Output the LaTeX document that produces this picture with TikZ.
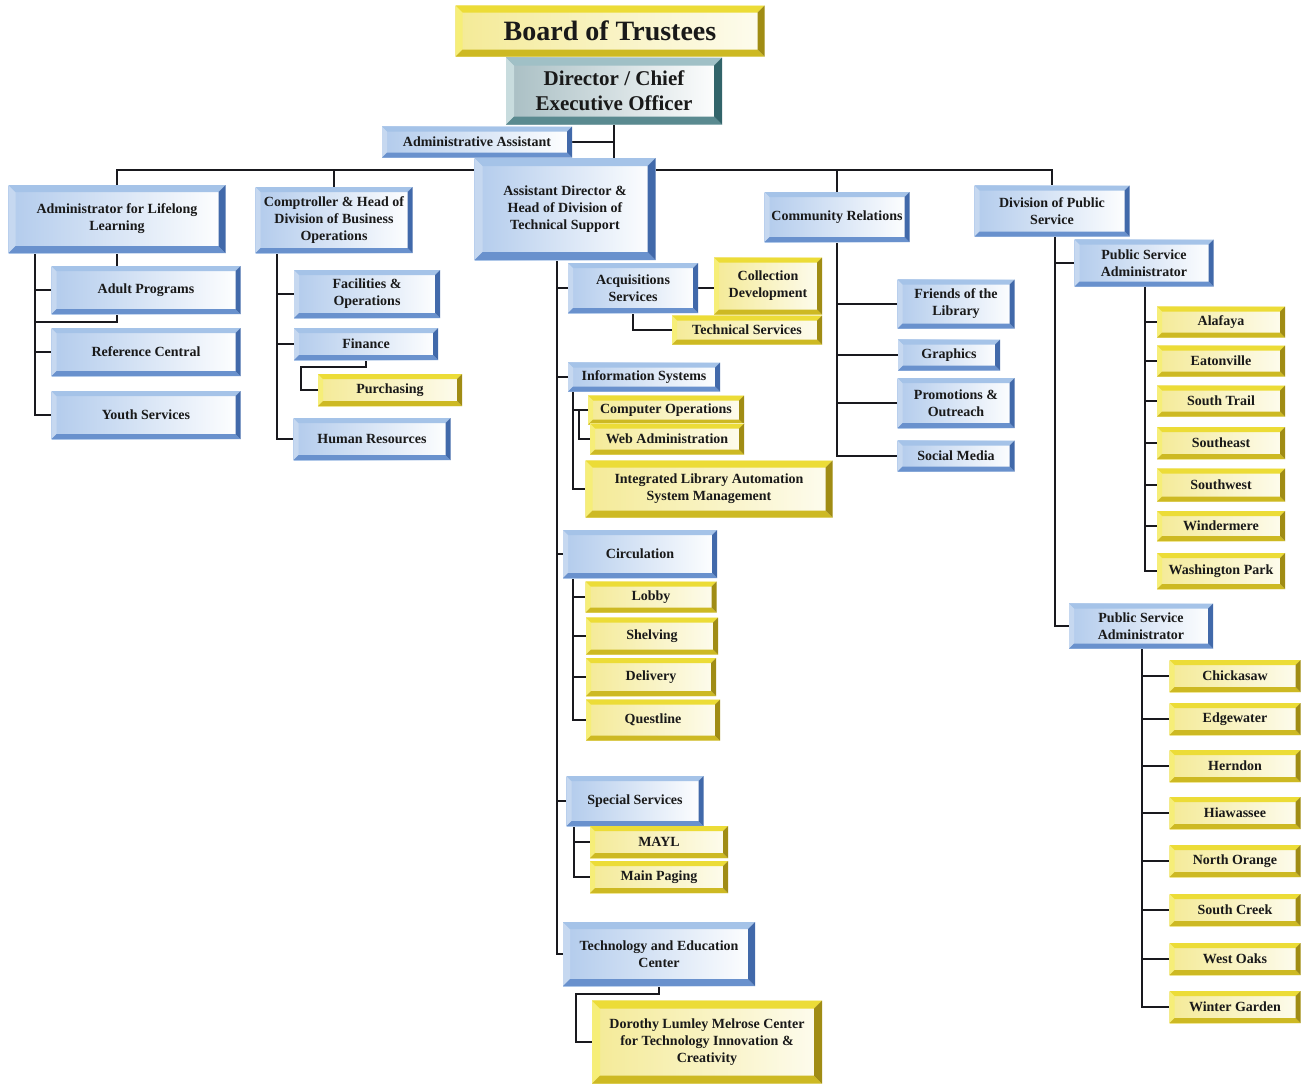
\documentclass[tikz,border=0pt]{standalone}
\usepackage{fontspec}
\setmainfont{Liberation Serif}
\usetikzlibrary{backgrounds}
\definecolor{bluetop}{RGB}{165,195,232}
\definecolor{blueside}{RGB}{198,216,240}
\definecolor{bluelow}{RGB}{105,145,205}
\definecolor{bluedark}{RGB}{65,105,170}
\definecolor{bluefill}{RGB}{178,203,236}
\definecolor{goldtop}{RGB}{236,220,55}
\definecolor{goldside}{RGB}{246,238,120}
\definecolor{goldlow}{RGB}{205,185,35}
\definecolor{golddark}{RGB}{160,140,20}
\definecolor{goldfill}{RGB}{244,234,150}
\definecolor{tealtop}{RGB}{160,192,198}
\definecolor{tealside}{RGB}{200,220,222}
\definecolor{teallow}{RGB}{90,138,144}
\definecolor{tealdark}{RGB}{50,100,106}
\definecolor{tealfill}{RGB}{168,190,195}
\definecolor{linkgrey}{RGB}{25,25,30}

\tikzset{
  bevel width/.store in=\bvw, bevel width=5pt,
  bevel/.style n args={4}{path picture={
    \fill[#1] (path picture bounding box.north west) -- (path picture bounding box.south west)
      -- ([xshift=\bvw,yshift=\bvw]path picture bounding box.south west)
      -- ([xshift=\bvw,yshift=-\bvw]path picture bounding box.north west) -- cycle;
    \fill[#2] (path picture bounding box.north west) -- (path picture bounding box.north east)
      -- ([xshift=-\bvw,yshift=-\bvw]path picture bounding box.north east)
      -- ([xshift=\bvw,yshift=-\bvw]path picture bounding box.north west) -- cycle;
    \fill[#3] (path picture bounding box.south west) -- (path picture bounding box.south east)
      -- ([xshift=-\bvw,yshift=\bvw]path picture bounding box.south east)
      -- ([xshift=\bvw,yshift=\bvw]path picture bounding box.south west) -- cycle;
    \fill[#4] (path picture bounding box.north east) -- (path picture bounding box.south east)
      -- ([xshift=-\bvw,yshift=\bvw]path picture bounding box.south east)
      -- ([xshift=-\bvw,yshift=-\bvw]path picture bounding box.north east) -- cycle;
  }},
  wh/.style 2 args={minimum width=#1pt, minimum height=#2pt},
  box/.style={rectangle, align=center, inner sep=0pt, text=black!90,
    font=\bfseries\fontsize{14}{17}\selectfont},
  bluebox/.style={box, left color=bluefill, middle color=white, right color=white,
    bevel={blueside}{bluetop}{bluelow}{bluedark}},
  goldbox/.style={box, left color=goldfill, middle color=white, right color=white!85!goldfill,
    bevel={goldside}{goldtop}{goldlow}{golddark}},
  tealbox/.style={box, left color=tealfill, middle color=white, right color=white,
    bevel={tealside}{tealtop}{teallow}{tealdark}},
  link/.style={draw=linkgrey, line width=1.7pt},
}

\begin{document}
\begin{tikzpicture}[x=1pt,y=-1pt]
\useasboundingbox (0,0) rectangle (1304,1084);
% top of the chart
\node[goldbox,wh={309}{51},bevel width=7pt,font=\bfseries\fontsize{28}{30}\selectfont](board) at (610,31){Board of Trustees};
\node[tealbox,wh={216}{67},bevel width=8pt,font=\bfseries\fontsize{21}{25}\selectfont](ceo) at (614,91){Director / Chief\\Executive Officer};
\node[bluebox,wh={190}{31}](admin) at (477,142){Administrative Assistant};
% division heads
\node[bluebox,wh={217}{68},bevel width=7pt](lifelong) at (117,219){Administrator for Lifelong\\Learning};
\node[bluebox,wh={157}{66}](comptroller) at (334,220){Comptroller \& Head of\\Division of Business\\Operations};
\node[bluebox,wh={181}{102},bevel width=8pt](assistdir) at (565,209){Assistant Director \&\\Head of Division of\\Technical Support};
\node[bluebox,wh={145}{50}](community) at (837,217){Community Relations};
\node[bluebox,wh={155}{51}](division) at (1052,211){Division of Public\\Service};
% lifelong learning
\node[bluebox,wh={189}{48}](adult) at (146,290){Adult Programs};
\node[bluebox,wh={189}{48}](refc) at (146,352){Reference Central};
\node[bluebox,wh={189}{48}](youth) at (146,415){Youth Services};
% business operations
\node[bluebox,wh={146}{48}](facilities) at (367,294){Facilities \&\\Operations};
\node[bluebox,wh={144}{32}](finance) at (366,344){Finance};
\node[goldbox,wh={144}{32}](purchasing) at (390,390){Purchasing};
\node[bluebox,wh={157}{42}](hr) at (372,439){Human Resources};
% technical support
\node[bluebox,wh={130}{50}](acq) at (633,288){Acquisitions\\Services};
\node[goldbox,wh={108}{57}](colldev) at (768,286){Collection\\Development};
\node[goldbox,wh={150}{29}](techserv) at (747,330){Technical Services};
\node[bluebox,wh={152}{29}](infosys) at (644,377){Information Systems};
\node[goldbox,wh={156}{29}](compops) at (666,410){Computer Operations};
\node[goldbox,wh={154}{31}](webadmin) at (667,439){Web Administration};
\node[goldbox,wh={247}{57},bevel width=7pt](ilasm) at (709,489){Integrated Library Automation\\System Management};
\node[bluebox,wh={154}{48}](circ) at (640,554){Circulation};
\node[goldbox,wh={131}{31}](lobby) at (651,597){Lobby};
\node[goldbox,wh={132}{37}](shelving) at (652,636){Shelving};
\node[goldbox,wh={130}{38}](delivery) at (651,677){Delivery};
\node[goldbox,wh={134}{41}](questline) at (653,720){Questline};
\node[bluebox,wh={137}{50}](special) at (635,801){Special Services};
\node[goldbox,wh={138}{32}](mayl) at (659,842){MAYL};
\node[goldbox,wh={138}{32}](mainpaging) at (659,877){Main Paging};
\node[bluebox,wh={192}{64},bevel width=7pt](teched) at (659,954){Technology and Education\\Center};
\node[goldbox,wh={230}{83},bevel width=8pt](melrose) at (707,1042){Dorothy Lumley Melrose Center\\for Technology Innovation \&\\Creativity};
% community relations
\node[bluebox,wh={117}{49}](friends) at (956,304){Friends of the\\Library};
\node[bluebox,wh={102}{31}](graphics) at (949,355){Graphics};
\node[bluebox,wh={117}{50}](promo) at (956,403){Promotions \&\\Outreach};
\node[bluebox,wh={117}{31}](socialmedia) at (956,456){Social Media};
% public service, first administrator
\node[bluebox,wh={139}{47}](psaone) at (1144,263){Public Service\\Administrator};
\node[goldbox,wh={128}{31}](alafaya) at (1221,322){Alafaya};
\node[goldbox,wh={128}{31}](eatonville) at (1221,361){Eatonville};
\node[goldbox,wh={128}{31}](southtrail) at (1221,401){South Trail};
\node[goldbox,wh={128}{32}](southeast) at (1221,443){Southeast};
\node[goldbox,wh={128}{33}](southwest) at (1221,485){Southwest};
\node[goldbox,wh={128}{30}](windermere) at (1221,526){Windermere};
\node[goldbox,wh={128}{36}](washington) at (1221,571){Washington Park};
% public service, second administrator
\node[bluebox,wh={144}{45}](psatwo) at (1141,626){Public Service\\Administrator};
\node[goldbox,wh={131}{32}](chickasaw) at (1235,676){Chickasaw};
\node[goldbox,wh={131}{32}](edgewater) at (1235,719){Edgewater};
\node[goldbox,wh={131}{32}](herndon) at (1235,766){Herndon};
\node[goldbox,wh={131}{32}](hiawassee) at (1235,813){Hiawassee};
\node[goldbox,wh={131}{32}](northorange) at (1235,861){North Orange};
\node[goldbox,wh={131}{32}](southcreek) at (1235,910){South Creek};
\node[goldbox,wh={131}{32}](westoaks) at (1235,959){West Oaks};
\node[goldbox,wh={131}{32}](wintergarden) at (1235,1007){Winter Garden};

% connectors, behind the boxes
\begin{scope}[on background layer]
  \coordinate (bar) at (0,170);
  \draw[link](ceo.south) -- (ceo.south |- assistdir.north);
  \draw[link](admin.east) -- (admin.east -| ceo.south);
  \draw[link](lifelong.north) -- (lifelong.north |- bar) -- (division.north |- bar) -- (division.north);
  \draw[link](comptroller.north) -- (comptroller.north |- bar);
  \draw[link](community.north) -- (community.north |- bar);
  % lifelong learning
  \coordinate (lltrunk) at (35,253);
  \draw[link](lltrunk) |- (youth.west);
  \draw[link](adult.west) -- (adult.west -| lltrunk); \draw[link](refc.west) -- (refc.west -| lltrunk);
  \draw[link](lifelong.south) -- (lifelong.south |- adult.north);
  \coordinate (adbend) at (117,322);
  \draw[link](lifelong.south |- adult.south) -- (adbend) -- (adbend -| lltrunk);
  % business operations
  \coordinate (cptrunk) at (277,253);
  \draw[link](cptrunk) |- (hr.west);
  \draw[link](facilities.west) -- (facilities.west -| cptrunk); \draw[link](finance.west) -- (finance.west -| cptrunk);
  \coordinate (pcbend) at (301,367);
  \draw[link](finance.south) |- (pcbend) |- (purchasing.west);
  % technical support
  \coordinate (tstrunk) at (557,260);
  \draw[link](tstrunk) |- (teched.west);
  \draw[link](acq.west) -- (acq.west -| tstrunk); \draw[link](infosys.west) -- (infosys.west -| tstrunk);
  \draw[link](circ.west) -- (circ.west -| tstrunk); \draw[link](special.west) -- (special.west -| tstrunk);
  \draw[link](acq.east) -- (acq.east -| colldev.west);
  \draw[link](acq.south) |- (techserv.west);
  \coordinate (istrunk) at (573,391);
  \draw[link](istrunk) |- (ilasm.west);
  \draw[link](compops.west) -- (compops.west -| istrunk);
  \coordinate (wabend) at (579,410);
  \draw[link](wabend) |- (webadmin.west);
  \coordinate (citrunk) at (573,578);
  \draw[link](citrunk) |- (questline.west);
  \draw[link](lobby.west) -- (lobby.west -| citrunk); \draw[link](shelving.west) -- (shelving.west -| citrunk);
  \draw[link](delivery.west) -- (delivery.west -| citrunk);
  \coordinate (sptrunk) at (574,826);
  \draw[link](sptrunk) |- (mainpaging.west);
  \draw[link](mayl.west) -- (mayl.west -| sptrunk);
  \coordinate (tebend) at (576,994);
  \draw[link](teched.south) |- (tebend) |- (melrose.west);
  % community relations
  \draw[link](community.south) |- (socialmedia.west);
  \draw[link](friends.west) -- (friends.west -| community.south); \draw[link](graphics.west) -- (graphics.west -| community.south);
  \draw[link](promo.west) -- (promo.west -| community.south);
  % public service
  \coordinate (dvtrunk) at (1055,236);
  \draw[link](dvtrunk) |- (psatwo.west);
  \draw[link](psaone.west) -- (psaone.west -| dvtrunk);
  \coordinate (ponetrunk) at (1145,287);
  \draw[link](ponetrunk) |- (washington.west);
  \draw[link](alafaya.west) -- (alafaya.west -| ponetrunk); \draw[link](eatonville.west) -- (eatonville.west -| ponetrunk);
  \draw[link](southtrail.west) -- (southtrail.west -| ponetrunk); \draw[link](southeast.west) -- (southeast.west -| ponetrunk);
  \draw[link](southwest.west) -- (southwest.west -| ponetrunk); \draw[link](windermere.west) -- (windermere.west -| ponetrunk);
  \coordinate (ptwotrunk) at (1142,649);
  \draw[link](ptwotrunk) |- (wintergarden.west);
  \draw[link](chickasaw.west) -- (chickasaw.west -| ptwotrunk); \draw[link](edgewater.west) -- (edgewater.west -| ptwotrunk);
  \draw[link](herndon.west) -- (herndon.west -| ptwotrunk); \draw[link](hiawassee.west) -- (hiawassee.west -| ptwotrunk);
  \draw[link](northorange.west) -- (northorange.west -| ptwotrunk); \draw[link](southcreek.west) -- (southcreek.west -| ptwotrunk);
  \draw[link](westoaks.west) -- (westoaks.west -| ptwotrunk);
\end{scope}
\end{tikzpicture}
\end{document}
